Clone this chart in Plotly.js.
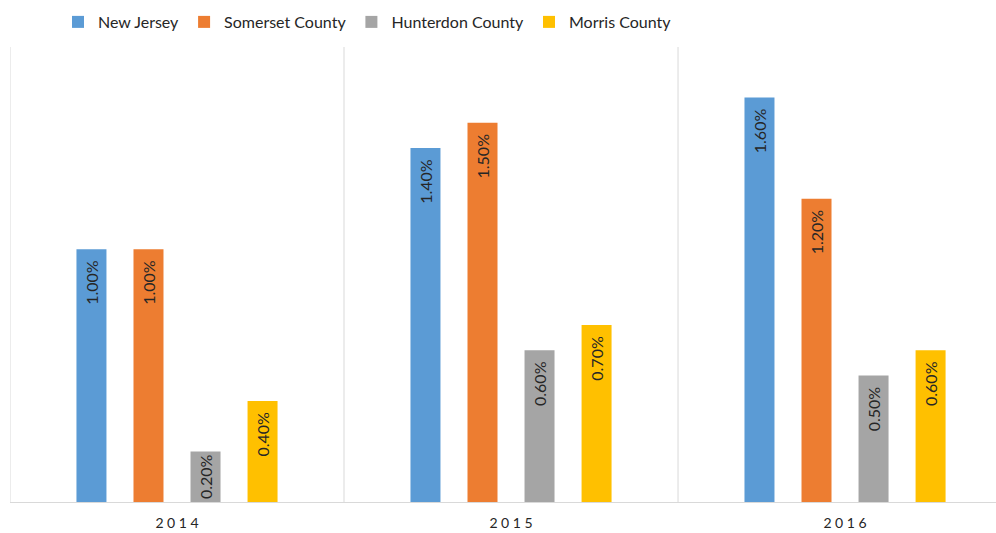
<!DOCTYPE html>
<html>
<head>
<meta charset="utf-8">
<script src="https://cdn.plot.ly/plotly-3.0.1.min.js"></script>
<style>html,body{margin:0;padding:0;background:#fff;}#chart{width:996px;height:533px;}</style>
</head>
<body>
<div id="chart"></div>
<script>
const years = ['2014', '2015', '2016'];
const seriesNames = ['New Jersey', 'Somerset County', 'Hunterdon County', 'Morris County'];
const newJersey = [0.010, 0.014, 0.016];
const somerset = [0.010, 0.015, 0.012];
const hunterdon = [0.002, 0.006, 0.005];
const morris = [0.004, 0.007, 0.006];
const colors = ['#5B9BD5', '#ED7D31', '#A5A5A5', '#FFC000'];

const values = [newJersey, somerset, hunterdon, morris];
const traces = values.map((v, i) => ({
  type: 'bar',
  name: seriesNames[i],
  x: years,
  y: v,
  marker: {color: colors[i]},
  texttemplate: v.map(val => val < 0.003 ? '%{y:.2%}' : '%{y:.2%}\u00a0\u00a0'),
  textposition: 'inside',
  insidetextanchor: 'end',
  textangle: -90,
  constraintext: 'none',
  textfont: {family: 'Lato, sans-serif', size: 16, color: '#262626'},
  hoverinfo: 'skip'
}));

const shapes = years.map((y, i) => ({
  type: 'line', xref: 'x', yref: 'paper',
  x0: i - 0.5, x1: i - 0.5, y0: 0, y1: 1,
  line: {color: '#D9D9D9', width: 1}
}));

const layout = {
  width: 996, height: 533,
  margin: {l: 10, r: 0, t: 47, b: 31},
  paper_bgcolor: '#ffffff', plot_bgcolor: '#ffffff',
  barmode: 'group',
  bargap: 0.317,
  bargroupgap: 0.474,
  showlegend: true,
  legend: {
    orientation: 'h', x: 0.0487, xanchor: 'left', y: 1.0176, yanchor: 'bottom',
    font: {family: 'Lato, sans-serif', size: 16, color: '#262626'},
    itemwidth: 30, traceorder: 'normal'
  },
  xaxis: {
    type: 'category',
    range: [-0.5, 2.452],
    tickvals: years,
    ticktext: years.map(s => s.split('').join(' ')),
    tickfont: {family: 'Lato, sans-serif', size: 14, color: '#262626'},
    ticklabelstandoff: 8,
    showgrid: false, zeroline: false, showline: true, linecolor: '#D9D9D9', linewidth: 1,
    ticks: '', fixedrange: true
  },
  yaxis: {
    range: [0, 0.018],
    showgrid: false, zeroline: false, showline: false, showticklabels: false,
    ticks: '', fixedrange: true
  },
  shapes: shapes
};

Plotly.newPlot('chart', traces, layout, {displayModeBar: false, staticPlot: true});
</script>
</body>
</html>
